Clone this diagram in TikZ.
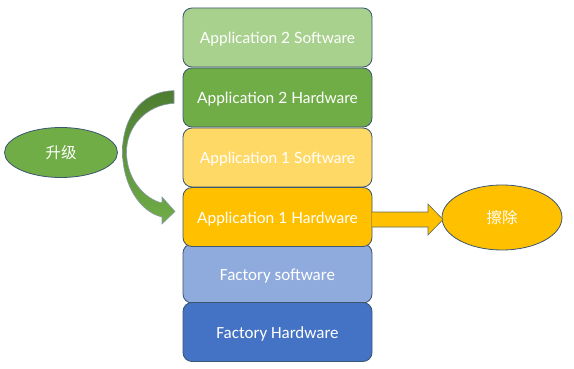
\documentclass[tikz,border=0pt]{standalone}
\usepackage{fontspec}
\usetikzlibrary{shapes.geometric}
\setmainfont{Carlito}
\newfontfamily\topfont{Lato}
\newfontfamily\cjk{Noto Sans CJK SC}
\definecolor{gA}{HTML}{A9D18E}
\definecolor{gB}{HTML}{70AD47}
\definecolor{gD}{HTML}{4E7D31}
\definecolor{yA}{HTML}{FFD966}
\definecolor{yB}{HTML}{FFC000}
\definecolor{bA}{HTML}{8FAADC}
\definecolor{bB}{HTML}{4472C4}
\definecolor{edge}{HTML}{3B5670}
\begin{document}
\begin{tikzpicture}[x=1pt,y=-1pt,
  layer/.style={draw=edge,line width=0.8pt,rounded corners=9pt,minimum width=189pt,minimum height=59pt,text=white,inner sep=0pt,text height=14pt,text depth=1pt},
  toptext/.style={font=\topfont\fontsize{15.5}{18}\selectfont},
  bottext/.style={font=\fontsize{17}{20}\selectfont},
  oval/.style={draw=edge,line width=0.8pt,ellipse,inner sep=0pt,text=white,font=\cjk\fontsize{15.5}{18}\selectfont}]
\useasboundingbox (0,0) rectangle (574,369);
\node[layer,toptext,fill=gA] (b1) at (277.5,37.5) {Application 2 Software};
\node[layer,toptext,fill=gB] (b2) at (277.5,97.5) {Application 2 Hardware};
\node[layer,toptext,fill=yA] (b3) at (277.5,157.5) {Application 1 Software};
\node[layer,bottext,fill=bA] (b5) at (277.5,273.5) {Factory software};
\node[layer,bottext,fill=bB] (b6) at (277.5,332) {Factory Hardware};
\node[layer,toptext,fill=yB] (b4) at (277.5,217) {Application 1 Hardware};
\node[oval,fill=gB,minimum width=113pt,minimum height=50pt] (up) at (61,152.5) {升级};
\node[oval,fill=yB,minimum width=120pt,minimum height=65pt] (er) at (502,217.5) {擦除};
% right block arrow
\draw[draw=edge!80!yB,line width=0.6pt,fill=yB]
  (372,212) -- (428,212) -- (428,204) -- (443,219.5) -- (428,235) -- (428,227) -- (372,227);
% curved arrow
\draw[draw=edge!60!white,line width=0.6pt,top color=gD,bottom color=gB]
  (174,90.7) .. controls (140,91) and (122,120) .. (122.5,153)
  .. controls (123,185) and (140,212) .. (162,217)
  -- (162,224) -- (175,211.5) -- (162,197) -- (162,203)
  .. controls (145,199) and (127,180) .. (126.5,153)
  .. controls (126,128) and (145,105) .. (174,103.3) -- cycle;
\end{tikzpicture}
\end{document}
